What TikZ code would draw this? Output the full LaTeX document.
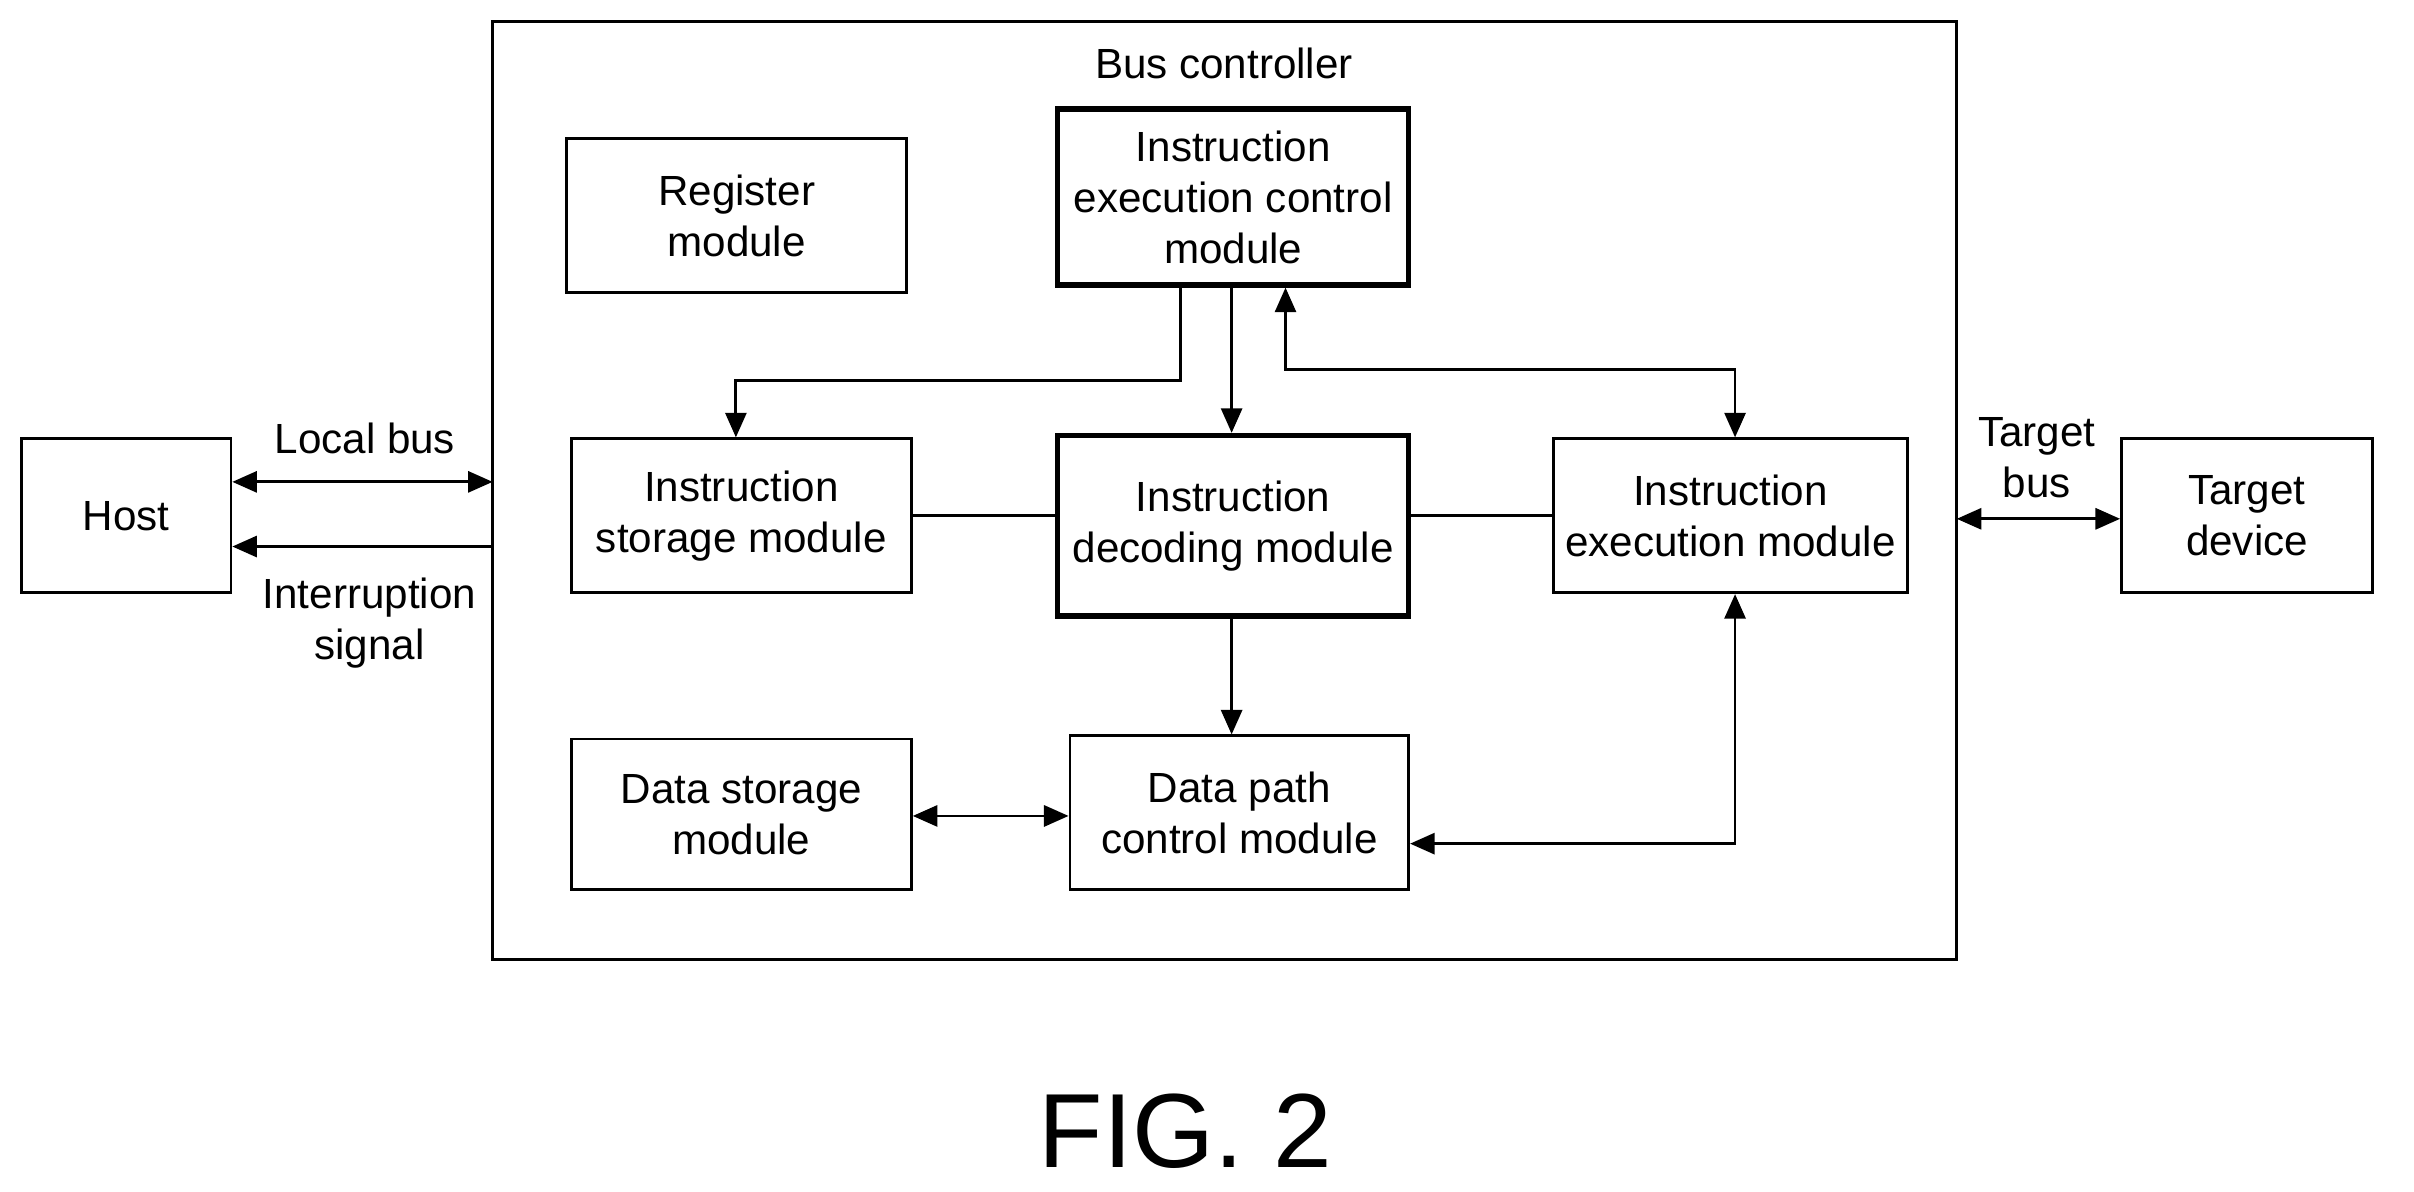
\documentclass[tikz,border=0pt]{standalone}
\usepackage{fontspec}
\setmainfont{Liberation Sans}
\usetikzlibrary{arrows.meta}
\begin{document}
\begin{tikzpicture}[x=0.0154cm,y=-0.0154cm,
 box/.style={draw,line width=0.8pt,align=center,font=\fontsize{12}{14.5}\selectfont},
 thick box/.style={box,line width=1.6pt},
 lbl/.style={align=center,font=\fontsize{12}{14.5}\selectfont},
 ar/.style={line width=0.8pt,-{Triangle[length=7pt,width=6pt]}},
 dar/.style={line width=0.8pt,{Triangle[length=7pt,width=6pt]}-{Triangle[length=7pt,width=6pt]}},
 ln/.style={line width=0.8pt}]
\useasboundingbox (0,0) rectangle (1568,774);
\draw[ln] (320,14) rectangle (1271,623);
\node[lbl] (bc) at (795,41) {Bus controller};
\node[box,minimum width=221*0.0154cm,minimum height=100*0.0154cm] (reg) at (478.5,140) {Register\\module};
\node[thick box,minimum width=228*0.0154cm,minimum height=114*0.0154cm] (iec) at (801,128) {Instruction\\execution control\\module};
\node[box,minimum width=221*0.0154cm,minimum height=100*0.0154cm] (ism) at (481.5,335) {Instruction\\storage module};
\node[thick box,minimum width=228*0.0154cm,minimum height=117*0.0154cm] (idm) at (801,341.5) {Instruction\\decoding module};
\node[box,minimum width=224*0.0154cm,minimum height=100*0.0154cm] (iem) at (1124,335) {Instruction\\execution module};
\node[box,minimum width=221*0.0154cm,minimum height=98*0.0154cm] (dsm) at (481.5,529) {Data storage\\module};
\node[box,minimum width=220*0.0154cm,minimum height=100*0.0154cm] (dpc) at (805,528) {Data path\\control module};
\node[box,minimum width=136*0.0154cm,minimum height=100*0.0154cm] (host) at (82,335) {Host};
\node[box,minimum width=163*0.0154cm,minimum height=100*0.0154cm] (td) at (1459.5,335) {Target\\device};
\coordinate (bl1) at (320,313);
\coordinate (bl2) at (320,355);
\coordinate (bl3) at (1271,337);
\node[lbl] at (237,285) {Local bus};
\node[lbl] at (240,405) {Interruption\\signal};
\node[lbl] at (1323,297) {Target\\bus};
\draw[dar] (host.east |- bl1) -- (bl1);
\draw[ar] (bl2) -- (host.east |- bl2);
\draw[dar] (bl3) -- (td.west |- bl3);
\draw[ar] (iec.south -| 767,0) -- (767,247) -- (478,247) -- (ism.north -| 478,0);
\draw[ar] (iec.south -| 800,0) -- (idm.north -| 800,0);
\draw[dar] (iec.south -| 835,0) -- (835,240) -- (1127,240) -- (iem.north -| 1127,0);
\draw[ln] (ism.east) -- (idm.west |- ism.east);
\draw[ln] (idm.east |- iem.west) -- (iem.west);
\draw[ar] (idm.south -| 800,0) -- (dpc.north -| 800,0);
\draw[dar] (dsm.east |- 0,530) -- (dpc.west |- 0,530);
\draw[dar] (dpc.east |- 0,548) -- (1127,548) -- (iem.south -| 1127,0);
\node[font=\fontsize{30}{36}\selectfont,inner sep=0pt] (fig) at (770,735) {FIG. 2};
\end{tikzpicture}
\end{document}
